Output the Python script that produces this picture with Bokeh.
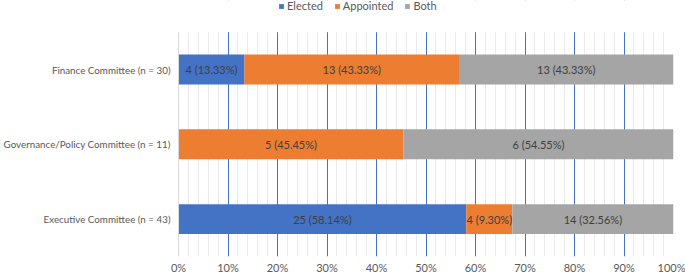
from bokeh.plotting import figure
from bokeh.models import (Range1d, SingleIntervalTicker, NumeralTickFormatter, FixedTicker,
                          Legend, LegendItem, ColumnDataSource, BoxAnnotation)
from bokeh.core.properties import value
from bokeh.embed import file_html
from bokeh.resources import INLINE

# ---- data (bottom to top) ----
categories = ["Executive Committee (n = 43)",
              "Governance/Policy Committee (n = 11)",
              "Finance Committee (n = 30)"]
n_total = [43, 11, 30]
elected = [25, 0, 4]
appointed = [4, 5, 13]
both = [14, 6, 13]
series_names = ["Elected", "Appointed", "Both"]
colors = ["#4472C4", "#ED7D31", "#A5A5A5"]

FONT = value("Lato")
ypos = list(range(len(categories)))
Y_TOP = len(categories) - 0.5  # top of the category area
Y_END = Y_TOP + 0.423           # extra room above for the legend

counts = {"Elected": elected, "Appointed": appointed, "Both": both}
data = {"y": ypos}
for s in series_names:
    data[s] = [c / n for c, n in zip(counts[s], n_total)]
src = ColumnDataSource(data)

p = figure(width=685, height=276, output_backend="svg", toolbar_location=None,
           y_range=Range1d(-0.5, Y_END), x_range=Range1d(0, 1),
           min_border_left=177, min_border_right=12, min_border_top=0, min_border_bottom=17)
p.outline_line_color = None
p.background_fill_color = "white"

renderers = p.hbar_stack(series_names, y="y", height=0.4, color=colors,
                         line_color=None, source=src)

# bar labels
lx, ly, lt = [], [], []
for i in ypos:
    left = 0.0
    for s in series_names:
        c = counts[s][i]
        frac = c / n_total[i]
        if c > 0:
            lx.append(left + frac / 2)
            ly.append(i)
            lt.append(f"{c} ({c / n_total[i] * 100:.2f}%)")
        left += frac
p.text(x=lx, y=ly, text=lt, text_align="center", text_baseline="middle",
       text_font=FONT, text_font_size="11px", text_color="#404040")

# x axis
xa = p.xaxis[0]
xa.ticker = SingleIntervalTicker(interval=0.1, num_minor_ticks=5)
xa.formatter = NumeralTickFormatter(format="0%")
xa.axis_line_color = None
xa.major_tick_line_color = None
xa.minor_tick_line_color = None
xa.major_tick_out = 0
xa.minor_tick_out = 0
xa.major_tick_in = 0
xa.minor_tick_in = 0
xa.major_label_standoff = 4
xa.major_label_text_font = "Lato"
xa.major_label_text_font_size = "11px"
xa.major_label_text_color = "#595959"

# y axis
ya = p.yaxis[0]
ya.ticker = FixedTicker(ticks=ypos)
ya.major_label_overrides = {i: c for i, c in zip(ypos, categories)}
ya.bounds = (-0.5, Y_TOP)
ya.axis_line_color = "#D9D9D9"
ya.major_tick_line_color = None
ya.minor_tick_line_color = None
ya.major_tick_out = 0
ya.minor_tick_out = 0
ya.major_tick_in = 0
ya.minor_tick_in = 0
ya.major_label_standoff = 8
ya.major_label_text_font = "Lato"
ya.major_label_text_font_size = "9.8px"
ya.major_label_text_color = "#595959"

p.ygrid.grid_line_color = None
g = p.xgrid[0]
g.grid_line_color = "#4472C4"
g.grid_line_width = 1
g.minor_grid_line_color = "#EBEBEB"
g.minor_grid_line_width = 1
g.level = "underlay"

# blank the grid above the category area (legend strip)
p.add_layout(BoxAnnotation(bottom=Y_TOP, fill_color="white", fill_alpha=1,
                           line_color=None, level="underlay"))

legend = Legend(items=[LegendItem(label=s, renderers=[r]) for s, r in zip(series_names, renderers)],
                orientation="horizontal", location=(100, 244),
                glyph_width=6, glyph_height=6, label_standoff=3, spacing=11,
                padding=0, margin=0, label_height=12,
                label_text_font="Lato", label_text_font_size="11px",
                label_text_color="#595959",
                background_fill_alpha=0, border_line_alpha=0)
p.add_layout(legend, "center")

open("out.html", "w").write(file_html(p, INLINE))
